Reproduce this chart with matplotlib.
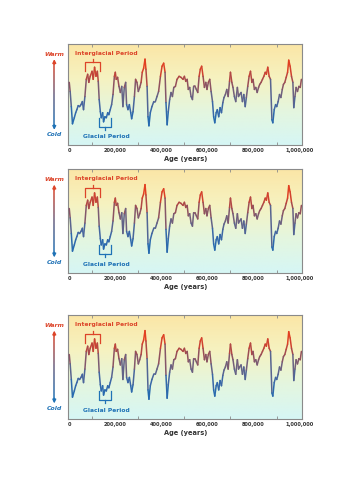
import matplotlib
matplotlib.use("Agg")
import matplotlib.pyplot as plt
import numpy as np
from matplotlib.collections import LineCollection
from matplotlib.colors import LinearSegmentedColormap

# ─── Data ────────────────────────────────────────────────────────────────
age_kyr = [0, 4, 9, 14, 22, 28, 33, 39, 45, 51, 57, 62, 68, 74, 80, 85, 91, 99,
           104, 110, 116, 122, 126, 130, 135, 139, 145, 149, 155, 161, 167, 172,
           178, 184, 190, 196, 200, 204, 210, 216, 222, 228, 233, 239, 245, 249,
           255, 261, 267, 271, 277, 283, 288, 294, 300, 306, 312, 317, 323, 329,
           333, 338, 342, 346, 352, 359, 367, 374, 381, 388, 396, 403, 410, 416,
           420, 425, 430, 436, 442, 448, 454, 461, 468, 477, 485, 494, 500, 506,
           512, 517, 523, 529, 535, 540, 546, 552, 558, 564, 569, 575, 581, 587,
           593, 598, 604, 610, 616, 622, 627, 632, 638, 643, 649, 655, 661, 667,
           672, 678, 684, 690, 696, 700, 706, 711, 717, 723, 730, 735, 740, 746,
           752, 758, 764, 769, 775, 781, 787, 793, 798, 804, 810, 816, 822, 827,
           833, 839, 845, 851, 856, 862, 868, 874, 880, 884, 890, 896, 901, 907,
           913, 919, 925, 930, 936, 942, 948, 953, 959, 965, 971, 975, 980, 985,
           991, 997, 1003, 1008]
temp_index = [62, 53, 38, 21, 27, 32, 35, 39, 38, 40, 43, 35, 48, 65, 70, 62, 68,
              73, 65, 77, 68, 73, 63, 45, 33, 27, 32, 23, 28, 27, 32, 30, 35, 40,
              50, 68, 72, 65, 67, 58, 52, 58, 38, 57, 62, 40, 35, 40, 32, 26, 33,
              48, 65, 62, 53, 57, 62, 72, 76, 85, 75, 58, 28, 19, 32, 38, 43, 43,
              48, 53, 68, 78, 81, 72, 42, 20, 33, 45, 52, 48, 57, 58, 65, 68, 67,
              65, 68, 63, 65, 55, 57, 48, 45, 58, 58, 55, 52, 68, 75, 78, 68, 57,
              62, 55, 62, 65, 53, 43, 28, 22, 32, 35, 28, 37, 32, 42, 47, 50, 55,
              48, 63, 72, 62, 57, 48, 43, 57, 48, 50, 52, 43, 50, 38, 47, 58, 68,
              73, 62, 65, 55, 57, 52, 57, 60, 62, 65, 68, 72, 70, 77, 68, 65, 25,
              22, 35, 40, 38, 43, 50, 47, 55, 60, 62, 67, 72, 84, 78, 68, 62, 37,
              48, 57, 53, 58, 57, 65]
xtick_values = [0, 200_000, 400_000, 600_000, 800_000, 1_000_000]
xtick_labels = ["0", "200,000", "400,000", "600,000", "800,000", "1,000,000"]

RED = "#dc4429"
BLUE = "#1f72b6"
line_cmap = LinearSegmentedColormap.from_list(
    "temp", [(0.0, "#1a6cb4"), (0.3, "#3c67a6"), (0.5, "#6a6282"),
             (0.7, "#9a4d55"), (0.88, "#d8402a"), (1.0, "#e5401f")])
arrow_cmap = LinearSegmentedColormap.from_list(
    "arrow", [BLUE, "#6a6282", RED])
bg_cmap = LinearSegmentedColormap.from_list(
    "bg", ["#d6f6f5", "#e4f6df", "#f6f2c0", "#fbe6a6"])

# panel positions: [left, bottom, width, height] in figure fraction
panel_boxes = [
    [0.193, 0.710, 0.661, 0.202],
    [0.193, 0.454, 0.661, 0.208],
    [0.193, 0.162, 0.661, 0.208],
]


def draw_panel(ax):
    x = np.array(age_kyr) * 1000.0
    y = np.array(temp_index, dtype=float)

    # background gradient
    grad = np.linspace(0, 1, 256).reshape(-1, 1)
    ax.imshow(grad, aspect="auto", cmap=bg_cmap, origin="lower",
              extent=[-4000, 1_012_000, 0, 100], zorder=0)

    # temperature line coloured by value
    pts = np.column_stack([x, y]).reshape(-1, 1, 2)
    segs = np.concatenate([pts[:-1], pts[1:]], axis=1)
    lc = LineCollection(segs, cmap=line_cmap, norm=plt.Normalize(18, 82),
                        linewidth=1.1, capstyle="round", joinstyle="round",
                        zorder=3)
    lc.set_array((y[:-1] + y[1:]) / 2)
    ax.add_collection(lc)

    ax.set_xlim(-4000, 1_012_000)
    ax.set_ylim(0, 100)

    # spines / ticks
    for sp in ax.spines.values():
        sp.set_color("#8a8a8a")
        sp.set_linewidth(0.8)
    ax.set_yticks([])
    ax.set_xticks(xtick_values)
    ax.set_xticklabels(xtick_labels, fontsize=3.6, fontweight="bold",
                       color="#333333")
    ax.set_xticks(np.arange(100_000, 1_000_000, 100_000), minor=True)
    ax.tick_params(axis="x", which="both", direction="in", length=2.5,
                   width=0.6, color="#8a8a8a", top=True, pad=2.5)
    ax.tick_params(axis="x", which="major", length=0)
    ax.set_xlabel("Age (years)", fontsize=4.8, fontweight="bold",
                  color="#333333", labelpad=2)

    # Interglacial bracket
    ax.text(23_000, 91, "Interglacial Period", color=RED, fontsize=4.3,
            fontweight="bold", va="center", ha="left", zorder=5)
    ax.plot([70_000, 70_000, 132_000, 132_000], [73, 82, 82, 73],
            color=RED, lw=0.9, zorder=5)
    ax.plot([101_000, 101_000], [82, 85], color=RED, lw=0.9, zorder=5)

    # Glacial bracket
    ax.text(161_000, 8, "Glacial Period", color=BLUE, fontsize=4.3,
            fontweight="bold", va="center", ha="center", zorder=5)
    ax.plot([128_000, 128_000, 183_000, 183_000], [27, 18, 18, 27],
            color=BLUE, lw=0.9, zorder=5)
    ax.plot([155_000, 155_000], [18, 15], color=BLUE, lw=0.9, zorder=5)

    # Warm / Cold arrow on the left (outside axes)
    tr = ax.get_yaxis_transform()
    ay = np.linspace(19, 81, 60)
    apts = np.column_stack([np.full_like(ay, -0.06), ay]).reshape(-1, 1, 2)
    asegs = np.concatenate([apts[:-1], apts[1:]], axis=1)
    alc = LineCollection(asegs, cmap=arrow_cmap, norm=plt.Normalize(19, 81),
                         linewidth=1.1, transform=tr, clip_on=False)
    alc.set_array((ay[:-1] + ay[1:]) / 2)
    ax.add_collection(alc)
    ax.annotate("", xy=(-0.06, 85), xytext=(-0.06, 80), xycoords=tr,
                textcoords=tr, annotation_clip=False,
                arrowprops=dict(arrowstyle="-|>", color=RED, lw=1.0,
                                mutation_scale=5, shrinkA=0, shrinkB=0))
    ax.annotate("", xy=(-0.06, 15), xytext=(-0.06, 20), xycoords=tr,
                textcoords=tr, annotation_clip=False,
                arrowprops=dict(arrowstyle="-|>", color=BLUE, lw=1.0,
                                mutation_scale=5, shrinkA=0, shrinkB=0))
    ax.text(-0.06, 90, "Warm", transform=tr, color=RED, fontsize=4.4,
            fontweight="bold", fontstyle="italic", ha="center", va="center")
    ax.text(-0.06, 10, "Cold", transform=tr, color=BLUE, fontsize=4.4,
            fontweight="bold", fontstyle="italic", ha="center", va="center")


fig = plt.figure(figsize=(3.54, 5.0), dpi=100)
fig.patch.set_facecolor("white")
for box in panel_boxes:
    draw_panel(fig.add_axes(box))

fig.savefig("out.png", dpi=100, facecolor="white")
